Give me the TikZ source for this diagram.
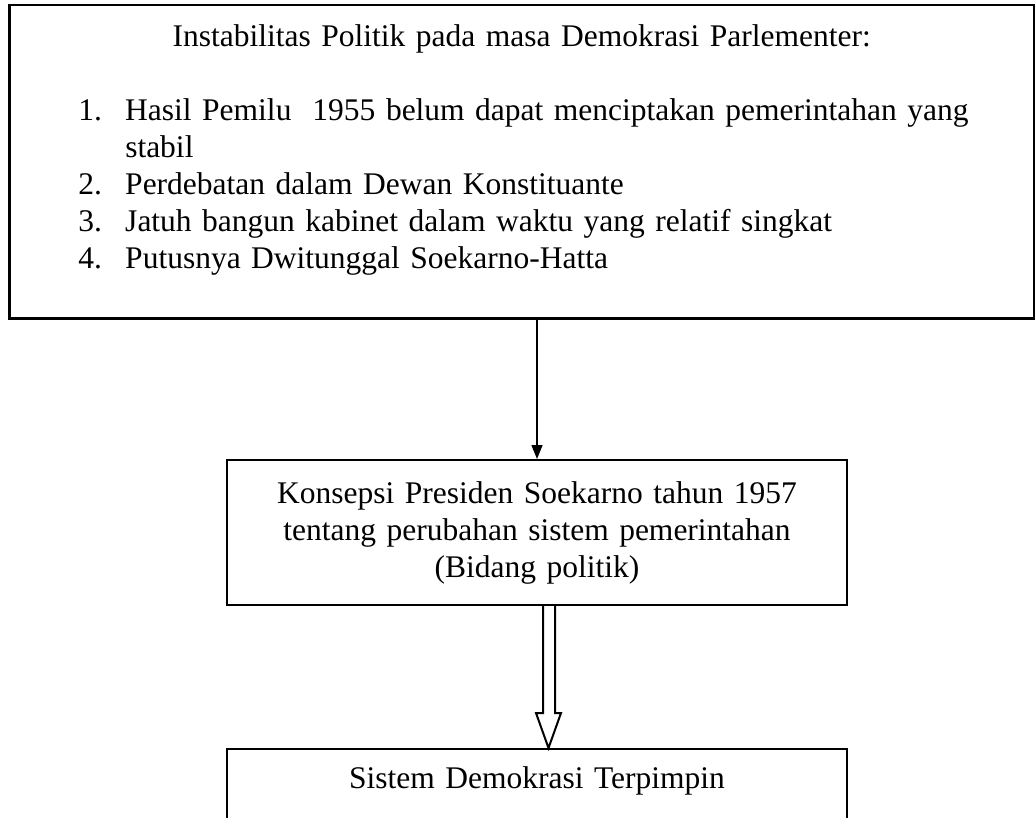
\documentclass[tikz,border=0pt]{standalone}
\usepackage{fontspec}
\setmainfont{Liberation Serif}
\usetikzlibrary{calc,arrows.meta}

\newcommand{\butir}[1]{\par\noindent\llap{\makebox[47pt][l]{#1}}}

\tikzset{
  kotak/.style={draw,line width=2pt,font=\fontsize{31.5pt}{37pt}\selectfont},
  panah/.style={line width=1.5pt,-{Triangle[length=14pt,width=11pt]}},
  panahkosong/.style={line width=2pt,line join=miter}
}

\begin{document}
\begin{tikzpicture}[x=1pt,y=-1pt]
  \useasboundingbox (0,0) rectangle (1035,818);
  \clip (0,0) rectangle (1035,818);
  % kotak atas
  \node[kotak,line width=2.5pt,anchor=north west,inner xsep=19pt,inner ysep=19pt,
        text width=987pt,text height=22pt,text depth=253pt] (instab) at (8,4) {%
    {\centering Instabilitas Politik pada masa Demokrasi Parlementer:\par}
    \vskip 37pt
    \leftskip=97pt \tolerance=10000 \hbadness=10000
    \butir{1.}Hasil Pemilu\ \ 1955 belum dapat menciptakan pemerintahan yang\linebreak stabil
    \butir{2.}Perdebatan dalam Dewan Konstituante
    \butir{3.}Jatuh bangun kabinet dalam waktu yang relatif singkat
    \butir{4.}Putusnya Dwitunggal Soekarno-Hatta\par};
  % kotak tengah
  \node[kotak,minimum width=620pt,minimum height=145pt,text width=560pt,align=center]
    (konsep) at (537,532.5) {Konsepsi Presiden Soekarno tahun 1957\\
    tentang perubahan sistem pemerintahan\\ (Bidang politik)};
  % kotak bawah
  \node[kotak,anchor=north,minimum width=620pt,inner ysep=17pt,text height=22pt,
        text depth=100pt,text width=560pt,align=center] (sistem) at (537,748)
    {Sistem Demokrasi Terpimpin};
  \draw[panah] (instab.south -| konsep.north) -- (konsep.north);
  % panah berongga
  \coordinate (ujung) at ($(sistem.north)+(11.5,0)$);
  \draw[panahkosong] ($(ujung)+(-5.5,-143)$) -- ($(ujung)+(-5.5,-35)$)
    -- ($(ujung)+(-12.5,-35)$) -- (ujung) -- ($(ujung)+(12.5,-35)$)
    -- ($(ujung)+(6.5,-35)$) -- ($(ujung)+(6.5,-143)$);
\end{tikzpicture}
\end{document}
